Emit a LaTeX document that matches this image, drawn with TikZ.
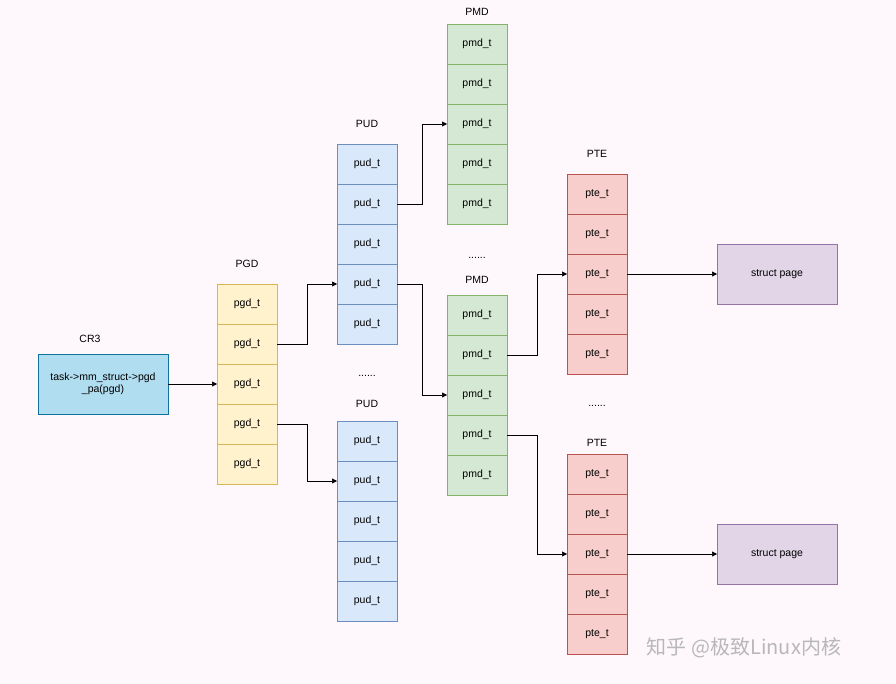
\documentclass[tikz,border=0pt]{standalone}
\usepackage{fontspec}
\setmainfont{Liberation Sans}
\newfontfamily\cjk{Noto Sans CJK SC}
\usetikzlibrary{arrows.meta}
\definecolor{pgdfill}{HTML}{FFF2CC}\definecolor{pgdline}{HTML}{D6B656}
\definecolor{pudfill}{HTML}{DAE8FC}\definecolor{pudline}{HTML}{6C8EBF}
\definecolor{pmdfill}{HTML}{D5E8D4}\definecolor{pmdline}{HTML}{82B366}
\definecolor{ptefill}{HTML}{F8CECC}\definecolor{pteline}{HTML}{B85450}
\definecolor{crfill}{HTML}{B1DDF0}\definecolor{crline}{HTML}{10739E}
\definecolor{pgfill}{HTML}{E1D5E7}\definecolor{pgline}{HTML}{9673A6}
\tikzset{
  cell/.style={draw, minimum width=60pt, minimum height=40pt, inner sep=0pt, outer sep=0pt},
  box/.style={draw, minimum width=120pt, minimum height=60pt, inner sep=2pt, outer sep=0pt, align=center},
  arr/.style={-{Triangle[length=5pt,width=5pt]}, line width=0.6pt}
}
% one column of five entries: name, x, top y, entry text, fill, line
\newcommand{\tablecol}[6]{%
  \foreach \i in {1,...,5}
    \node[cell, fill=#5, draw=#6] (#1\i) at (#2, #3+40*\i-20) {#4};
}
\begin{document}
\begin{tikzpicture}[x=1pt, y=-1pt, font=\fontsize{10.5}{12.5}\selectfont]
\fill[white!97!magenta] (0,0) rectangle (896,684);
\useasboundingbox (0,0) rectangle (896,684);

% CR3
\node (crlbl) at (90,339) {CR3};
\node[box, minimum width=130pt, fill=crfill, draw=crline] (cr3) at (103,384) {task->mm\_struct->pgd\\\_pa(pgd)};

% tables
\node (pgdlbl) at (247,264) {PGD};
\tablecol{pgd}{247}{284}{pgd\_t}{pgdfill}{pgdline}
\node (pudAlbl) at (367,124) {PUD};
\tablecol{pudA}{367}{144}{pud\_t}{pudfill}{pudline}
\node (pudgap) at (367,376) {......};
\node (pudBlbl) at (367,404) {PUD};
\tablecol{pudB}{367}{421}{pud\_t}{pudfill}{pudline}
\node (pmdAlbl) at (477,12) {PMD};
\tablecol{pmdA}{477}{24}{pmd\_t}{pmdfill}{pmdline}
\node (pmdgap) at (477,258) {......};
\node (pmdBlbl) at (477,280) {PMD};
\tablecol{pmdB}{477}{295}{pmd\_t}{pmdfill}{pmdline}
\node (pteAlbl) at (597,154) {PTE};
\tablecol{pteA}{597}{174}{pte\_t}{ptefill}{pteline}
\node (ptegap) at (597,406) {......};
\node (pteBlbl) at (597,443) {PTE};
\tablecol{pteB}{597}{454}{pte\_t}{ptefill}{pteline}

% pages
\node[box, fill=pgfill, draw=pgline] (pageA) at (777,274) {struct page};
\node[box, fill=pgfill, draw=pgline] (pageB) at (777,554) {struct page};

% connectors
\draw[arr] (cr3.east) -- (pgd3.west);
\draw[arr] (pgd2.east) -- ++(30,0) |- (pudA4.west);
\draw[arr] (pgd4.east) -- ++(30,0) |- (pudB2.west);
\draw[arr] (pudA2.east) -- ++(25,0) |- (pmdA3.west);
\draw[arr] (pudA4.east) -- ++(25,0) |- (pmdB3.west);
\draw[arr] (pmdB2.east) -- ++(30,0) |- (pteA3.west);
\draw[arr] (pmdB4.east) -- ++(30,0) |- (pteB3.west);
\draw[arr] (pteA3.east) -- (pageA.west);
\draw[arr] (pteB3.east) -- (pageB.west);

% watermark
\node[text=white!72!black, font=\cjk\fontsize{20}{22}\selectfont] (mark) at (744,648) {知乎 @极致Linux内核};
\end{tikzpicture}
\end{document}
